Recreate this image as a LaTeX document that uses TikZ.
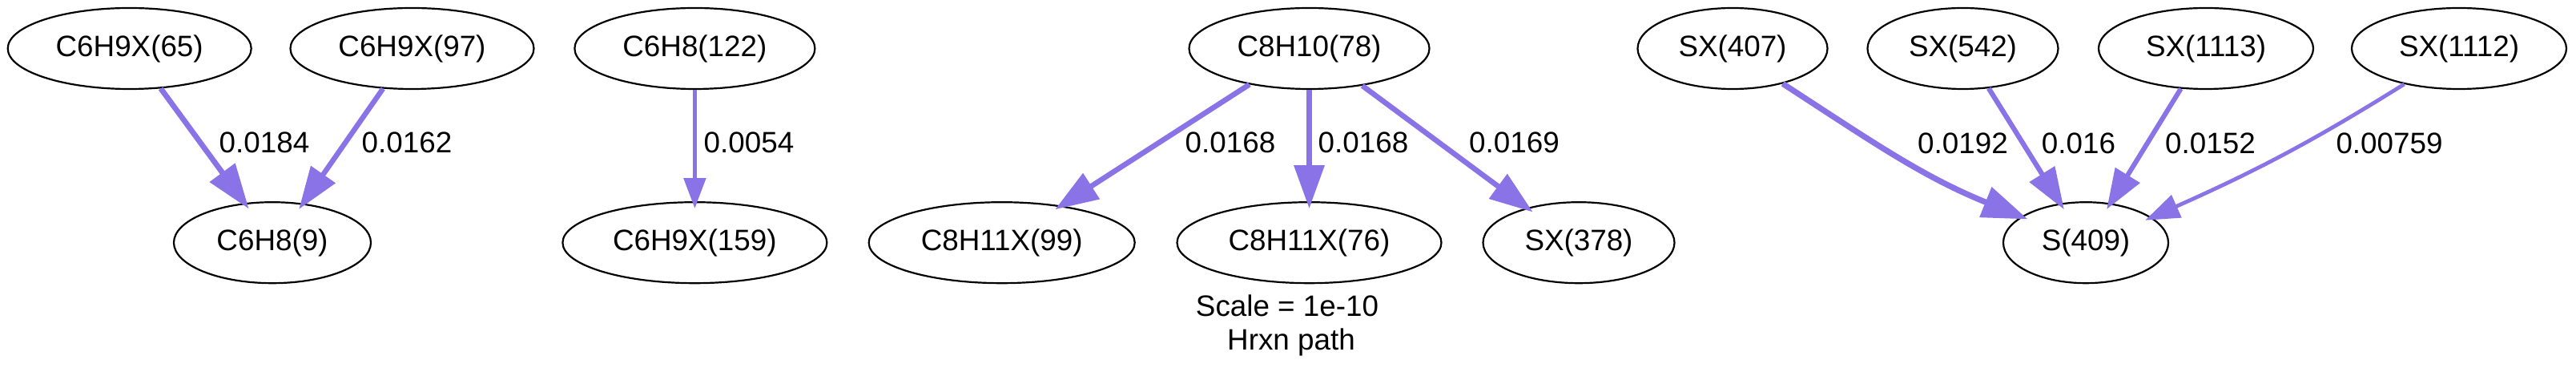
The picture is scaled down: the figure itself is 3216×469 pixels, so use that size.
\documentclass[tikz,border=0pt]{standalone}
\usepackage{fontspec}
\setmainfont{Liberation Sans}
\usetikzlibrary{shapes.geometric,arrows.meta}
\definecolor{edgecol}{RGB}{138,115,230}
\begin{document}
\begin{tikzpicture}[x=0.25pt,y=-0.25pt,
  font=\fontsize{9.2}{11}\selectfont,
  sp/.style={ellipse,draw=black,line width=0.55pt,inner sep=0pt,minimum height=25.25pt},
  lbl/.style={inner sep=0pt},
  rxn/.style n args={3}{draw=edgecol,line width=#1,shorten >=-2.25pt,-{Triangle[length=#2,width=#3]}}]
\useasboundingbox (0,0) rectangle (3216,469);
% species
\node[sp,minimum width=76pt] (n65) at (161.7,60.5) {C6H9X(65)};
\node[sp,minimum width=76pt] (n97) at (514.5,60.5) {C6H9X(97)};
\node[sp,minimum width=75pt] (n122) at (867.4,60.5) {C6H8(122)};
\node[sp,minimum width=61.5pt] (n9) at (340,302.7) {C6H8(9)};
\node[sp,minimum width=82.5pt] (n159) at (867.4,302.7) {C6H9X(159)};
\node[sp,minimum width=75pt] (n78) at (1634.5,60.5) {C8H10(78)};
\node[sp,minimum width=83pt] (n99) at (1250.7,302.7) {C8H11X(99)};
\node[sp,minimum width=82.5pt] (n76) at (1634.5,302.7) {C8H11X(76)};
\node[sp,minimum width=59.75pt] (n378) at (1971,302.7) {SX(378)};
\node[sp,minimum width=59.25pt] (n407) at (2163,60.5) {SX(407)};
\node[sp,minimum width=59.5pt] (n542) at (2450.5,60.5) {SX(542)};
\node[sp,minimum width=67pt] (n1113) at (2754,60.5) {SX(1113)};
\node[sp,minimum width=67pt] (n1112) at (3070,60.5) {SX(1112)};
\node[sp,minimum width=51.5pt] (n409) at (2604,302.7) {S(409)};
% edges
\draw[rxn={1.7pt}{14pt}{9.5pt}] (n65.-52.3) -- (n9.125.7);
\draw[rxn={1.62pt}{13.25pt}{9pt}] (n97.-126.2) -- (n9.52.7);
\draw[rxn={1.3pt}{9.5pt}{6.75pt}] (n122) -- (n159);
\draw[rxn={1.65pt}{13.5pt}{9.25pt}] (n78.211.3) -- (n99.32.2);
\draw[rxn={1.65pt}{13.5pt}{9.25pt}] (n78) -- (n76);
\draw[rxn={1.65pt}{13.5pt}{9.25pt}] (n78.-35.3) -- (n378.146.6);
\draw[rxn={1.8pt}{14.25pt}{9.75pt}] (n407.-35.9) to[out=-33,in=158] (n409.158.2);
\draw[rxn={1.55pt}{13pt}{9pt}] (n542.-57.7) -- (n409.123.1);
\draw[rxn={1.5pt}{12.5pt}{8.75pt}] (n1113.-122.1) -- (n409.58.4);
\draw[rxn={1.2pt}{10.75pt}{7.5pt}] (n1112.-147.7) to[out=212,in=24] (n409.21.9);
% edge labels
\node[lbl] (l1) at (330,178.3) {0.0184};
\node[lbl] (l2) at (508,178.3) {0.0162};
\node[lbl] (l3) at (935,178.3) {0.0054};
\node[lbl] (l4) at (1536,178.3) {0.0168};
\node[lbl] (l5) at (1702,178.3) {0.0168};
\node[lbl] (l6) at (1890.5,178.3) {0.0169};
\node[lbl] (l7) at (2450.5,179) {0.0192};
\node[lbl] (l8) at (2595,179) {0.016};
\node[lbl] (l9) at (2759.5,179) {0.0152};
\node[lbl] (l10) at (2983,179) {0.00759};
% caption
\node[lbl,anchor=base] (cap1) at (1607,395) {Scale = 1e-10};
\node[lbl,anchor=base] (cap2) at (1612,437) {Hrxn path};
\end{tikzpicture}
\end{document}
